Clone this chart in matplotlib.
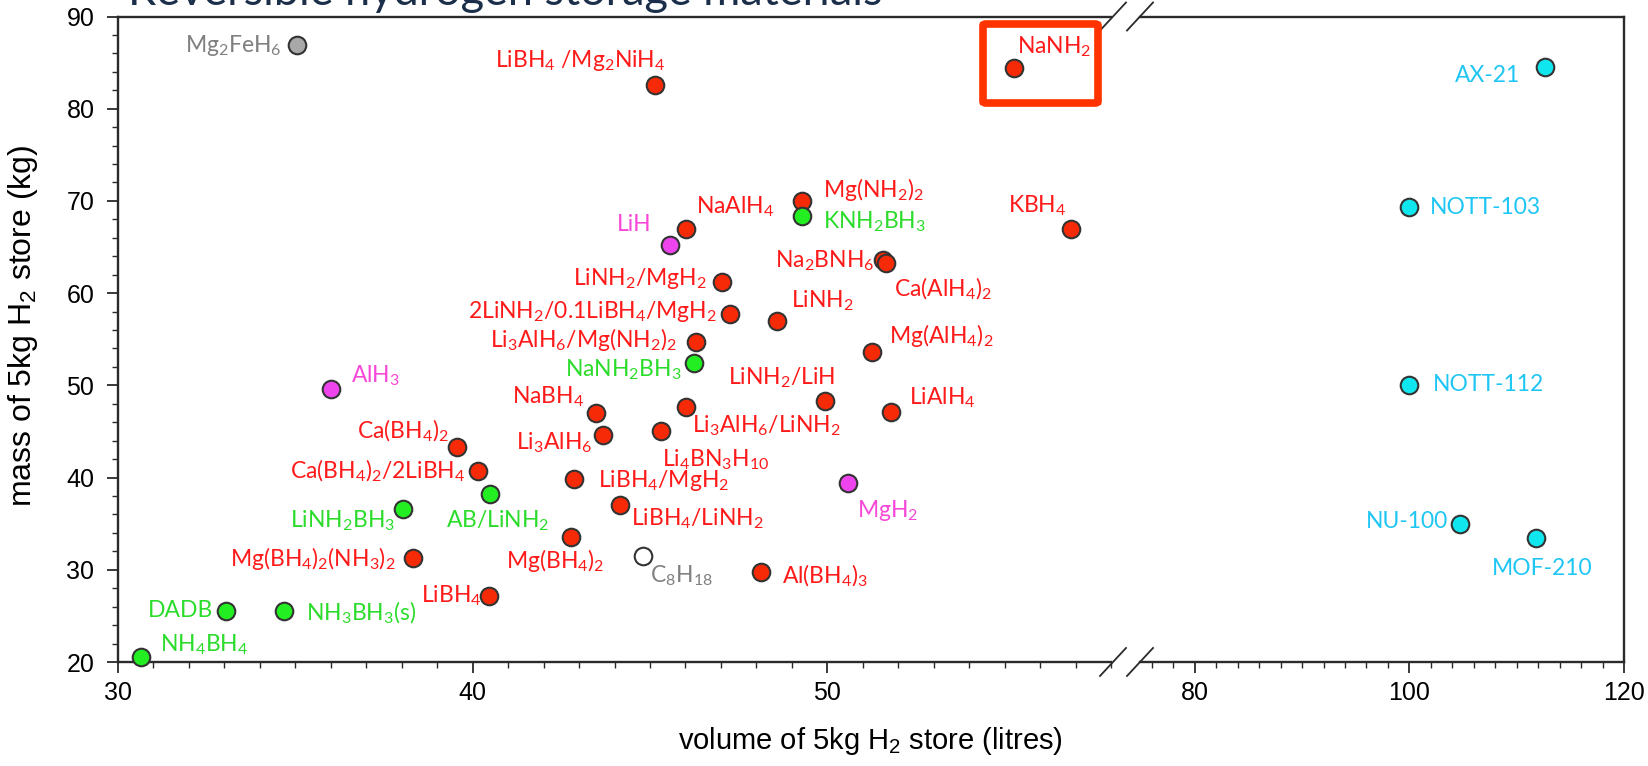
import matplotlib
matplotlib.use("Agg")
import matplotlib.pyplot as plt
from matplotlib.patches import FancyBboxPatch
from matplotlib.ticker import MultipleLocator, FixedLocator

plt.rcParams['font.family'] = ['Liberation Sans', 'DejaVu Sans']
plt.rcParams['mathtext.default'] = 'regular'

# ---- data: volume (litres) and mass (kg) of a 5 kg H2 store ----
names = ['Mg$_2$FeH$_6$', 'LiBH$_4$ /Mg$_2$NiH$_4$', 'NaNH$_2$', 'Mg(NH$_2$)$_2$',
         'KNH$_2$BH$_3$', 'NaAlH$_4$', 'LiH', 'KBH$_4$', 'Na$_2$BNH$_6$',
         'Ca(AlH$_4$)$_2$', 'LiNH$_2$/MgH$_2$', '2LiNH$_2$/0.1LiBH$_4$/MgH$_2$',
         'LiNH$_2$', 'Li$_3$AlH$_6$/Mg(NH$_2$)$_2$', 'Mg(AlH$_4$)$_2$',
         'NaNH$_2$BH$_3$', 'LiNH$_2$/LiH', 'LiAlH$_4$', 'NaBH$_4$',
         'Li$_3$AlH$_6$/LiNH$_2$', 'Li$_3$AlH$_6$', 'Li$_4$BN$_3$H$_{10}$',
         'LiBH$_4$/MgH$_2$', 'LiBH$_4$/LiNH$_2$', 'C$_8$H$_{18}$', 'Al(BH$_4$)$_3$',
         'MgH$_2$', 'AlH$_3$', 'Ca(BH$_4$)$_2$', 'Ca(BH$_4$)$_2$/2LiBH$_4$',
         'AB/LiNH$_2$', 'LiNH$_2$BH$_3$', 'Mg(BH$_4$)$_2$(NH$_3$)$_2$',
         'Mg(BH$_4$)$_2$', 'LiBH$_4$', 'DADB', 'NH$_3$BH$_3$(s)', 'NH$_4$BH$_4$',
         'AX-21', 'NOTT-103', 'NOTT-112', 'NU-100', 'MOF-210']
volume = [35.06, 45.15, 55.27, 49.3, 49.3, 46.01, 45.56, 56.87, 51.56, 51.66,
          47.02, 47.25, 48.59, 46.31, 51.26, 46.24, 49.93, 51.81, 43.47, 46.01,
          43.68, 45.3, 42.86, 44.15, 44.79, 48.13, 50.57, 36.0, 39.55, 40.16,
          40.49, 38.04, 38.33, 42.77, 40.46, 33.04, 34.69, 30.64,
          112.6, 100.0, 100.0, 104.7, 111.8]
mass = [86.9, 82.55, 84.4, 69.95, 68.4, 66.99, 65.26, 66.99, 63.56, 63.28,
        61.18, 57.79, 56.96, 54.72, 53.6, 52.45, 48.3, 47.1, 46.96, 47.69,
        44.58, 45.1, 39.89, 37.03, 31.51, 29.71, 39.46, 49.64, 43.3, 40.71,
        38.2, 36.54, 31.23, 33.6, 27.18, 25.56, 25.56, 20.5,
        84.48, 69.3, 50.06, 35.0, 33.44]
kind = ['ref', 'complex', 'complex', 'complex', 'chemical', 'complex', 'binary',
        'complex', 'complex', 'complex', 'complex', 'complex', 'complex',
        'complex', 'complex', 'chemical', 'complex', 'complex', 'complex',
        'complex', 'complex', 'complex', 'complex', 'complex', 'fuel', 'complex',
        'binary', 'binary', 'complex', 'complex', 'chemical', 'chemical',
        'complex', 'complex', 'complex', 'chemical', 'chemical', 'chemical',
        'sorbent', 'sorbent', 'sorbent', 'sorbent', 'sorbent']

# ---- styling / layout ----
fill = {'complex': '#F62A06', 'chemical': '#22EE22', 'binary': '#EE44EE',
        'ref': '#A8A8A8', 'fuel': 'white', 'sorbent': '#10E6EE'}
txtc = {'complex': '#FF1A1A', 'chemical': '#2CDC2C', 'binary': '#F848D8',
        'ref': '#7F7F7F', 'fuel': '#808080', 'sorbent': '#1FC6F4'}
# label offset in pixels from the marker, and horizontal alignment
offs = [(-16, 0, 'right'), (10, 25, 'right'), (3, 21, 'left'), (21, 12, 'left'),
        (21, -6, 'left'), (10, 22, 'left'), (-18, 20, 'right'), (-4, 23, 'right'),
        (-8, 0, 'right'), (8, -26, 'left'), (-15, 4, 'right'), (-13, 2, 'right'),
        (14, 20, 'left'), (-19, 2, 'right'), (17, 17, 'left'), (-12, -7, 'right'),
        (10, 23, 'right'), (18, 14, 'left'), (-12, 17, 'right'), (6, -19, 'left'),
        (-11, -7, 'right'), (1, -29, 'left'), (24, -2, 'left'), (11, -14, 'left'),
        (7, -20, 'left'), (21, -3, 'left'), (9, -28, 'left'), (20, 13, 'left'),
        (-8, 16, 'right'), (-13, 0, 'right'), (-44, -27, 'left'), (-8, -11, 'right'),
        (-18, 0, 'right'), (33, -24, 'right'), (-7, 0, 'right'), (-13, 0, 'right'),
        (22, -2, 'left'), (19, 13, 'left'), (-24, -8, 'right'), (21, 0, 'left'),
        (24, 0, 'left'), (-12, 2, 'right'), (6, -30, 'center')]

W, H = 1648, 766
fig = plt.figure(figsize=(W / 100, H / 100), dpi=100)
bot, hgt = 1 - 662 / H, (662 - 16.5) / H
axL = fig.add_axes([118 / W, bot, 993 / W, hgt])
axR = fig.add_axes([1140 / W, bot, 484 / W, hgt])

axL.set_xlim(30, 58)
axR.set_xlim(74.9, 120)
for ax in (axL, axR):
    ax.set_ylim(20, 90)
    for s in ax.spines.values():
        s.set_linewidth(1.7)
        s.set_color('#2a2a2a')
    ax.tick_params(which='major', direction='out', length=8, width=1.3,
                   labelsize=18, pad=6, color='#2a2a2a')
    ax.tick_params(which='minor', direction='out', length=4, width=1.0,
                   color='#2a2a2a')

axL.spines['right'].set_visible(False)
axR.spines['left'].set_visible(False)
axL.xaxis.set_major_locator(FixedLocator([30, 40, 50]))
axL.xaxis.set_minor_locator(MultipleLocator(1))
axL.yaxis.set_major_locator(MultipleLocator(10))
axL.yaxis.set_minor_locator(MultipleLocator(2))
axL.tick_params(axis='y', which='major', pad=9)
axR.xaxis.set_major_locator(FixedLocator([80, 100, 120]))
axR.xaxis.set_minor_locator(MultipleLocator(2))
axR.yaxis.set_visible(False)

for n, x, y, k, (dx, dy, ha) in zip(names, volume, mass, kind, offs):
    ax = axR if x > 70 else axL
    ax.scatter([x], [y], s=160, c=fill[k], edgecolors='#333333', linewidths=1.5,
               zorder=4, clip_on=False)
    ax.annotate(n, (x, y), xytext=(dx, dy), textcoords='offset pixels',
                ha=ha, va='center', color=txtc[k], fontsize=16.5,
                family=['Lato', 'DejaVu Sans'], zorder=3, annotation_clip=False)

# break marks
kw = dict(color='#2a2a2a', lw=1.3, clip_on=False)
for yy in (0, 1):
    axL.plot([1 - 11 / 993, 1 + 15 / 993], [yy - 14 / 645.5, yy + 14 / 645.5],
             transform=axL.transAxes, **kw)
    axR.plot([-13 / 484, 13 / 484], [yy - 14 / 645.5, yy + 14 / 645.5],
             transform=axR.transAxes, **kw)

axL.set_ylabel('mass of 5kg H$_2$ store (kg)', fontsize=23)
axL.yaxis.set_label_coords(-0.079, 0.52)
fig.text(870 / W, 1 - 741 / H, 'volume of 5kg H$_2$ store (litres)',
         fontsize=21, ha='center', va='center')

# highlight box around NaNH2
box = FancyBboxPatch((983 / W, 1 - 103 / H), 115 / W, 79 / H,
                     boxstyle='round,pad=0,rounding_size=0.002',
                     transform=fig.transFigure, fill=False, ec='#FF3300', lw=5.5,
                     zorder=10)
fig.patches.append(box)

fig.text(128 / W, 1 - 5 / H, 'Reversible hydrogen storage materials',
         fontsize=32.5, color='#1B2E4A', family=['Lato', 'DejaVu Sans'],
         ha='left', va='baseline')

fig.savefig('out.png', dpi=100)
